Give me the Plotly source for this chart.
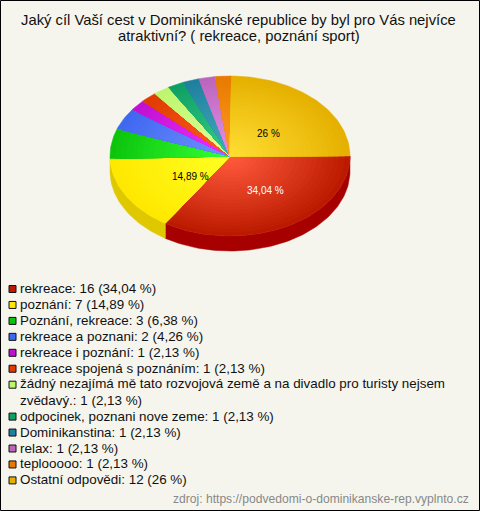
import math
import plotly.graph_objects as go

labels = ["rekreace", "poznání", "Poznání, rekreace", "rekreace a poznani", "rekreace i poznání",
          "rekreace spojená s poznáním",
          "žádný nezajímá mě tato rozvojová země a na divadlo pro turisty nejsem<br>zvědavý.",
          "odpocinek, poznani nove zeme", "Dominikanstina", "relax", "teplooooo", "Ostatní odpovědi"]
values = [16, 7, 3, 2, 1, 1, 1, 1, 1, 1, 1, 12]
percents = ["34,04", "14,89", "6,38", "4,26", "2,13", "2,13", "2,13", "2,13", "2,13", "2,13", "2,13", "26"]
# wedge shares as they were measured on the picture (percent of the full turn)
drawn_shares = [34.06, 15.39, 6.06, 4.31, 2.2, 2.2, 2.2, 2.2, 2.2, 2.2, 2.2, 24.78]
edge_colors = ["#bb1a00", "#ffe800", "#0cc40c", "#3f68f0", "#c010d0", "#e03c00", "#bdf56e",
               "#0f9f63", "#1f7f9f", "#bb66bb", "#e87a00", "#e5b000"]
centre_colors = ["#ff5a3c", "#ffff22", "#33ff33", "#6f90ff", "#f030ff", "#ff5c22", "#dcff99",
                 "#33cc88", "#44aabb", "#e08fe8", "#ff9a22", "#ffdd33"]
side_colors = ["#a60000", "#e0c800"]

BG = "#f5f5ee"
CX, CY, RX, RY, DEPTH = 230, 156, 120, 80, 15
RINGS = 22


def hex_rgb(c):
    return [int(c[i:i + 2], 16) for i in (1, 3, 5)]


def mix(a, b, t):
    a, b = hex_rgb(a), hex_rgb(b)
    return "rgb(%d,%d,%d)" % tuple(round(p + (q - p) * t) for p, q in zip(a, b))


def arc(a0, a1, scale=1.0, dy=0.0):
    n = max(2, int(abs(a1 - a0) * 40))
    xs, ys = [], []
    for i in range(n + 1):
        a = a0 + (a1 - a0) * i / n
        xs.append(CX + RX * scale * math.cos(a))
        ys.append(CY + dy + RY * scale * math.sin(a))
    return xs, ys


fig = go.Figure()


def poly(xs, ys, color):
    fig.add_trace(go.Scatter(x=xs, y=ys, mode="lines", fill="toself", fillcolor=color,
                             line=dict(width=0.5, color=color), hoverinfo="skip", showlegend=False))


total = sum(drawn_shares)
angles = [0.0]
for v in drawn_shares:
    angles.append(angles[-1] + 2 * math.pi * v / total)

# visible side wall of the first two slices
for i in range(2):
    a0, a1 = angles[i], min(angles[i + 1], math.pi)
    x1, y1 = arc(a0, a1)
    x2, y2 = arc(a1, a0, dy=DEPTH)
    poly(x1 + x2 + x1[:1], y1 + y2 + y1[:1], side_colors[i])

# top face, concentric rings give the radial shading
for i in range(len(values)):
    for k in range(RINGS):
        s = 1 - k / RINGS
        color = mix(edge_colors[i], centre_colors[i], (k / (RINGS - 1)) ** 0.95)
        xs, ys = arc(angles[i], angles[i + 1], s)
        poly([CX] + xs + [CX], [CY] + ys + [CY], color)

# pie labels
pie_labels = [(0, 265, 190, "#ffffff"), (1, 190, 176, "#000000"), (11, 268, 133, "#000000")]
for i, x, y, col in pie_labels:
    fig.add_annotation(x=x, y=y, text=f"{percents[i]} %", showarrow=False,
                       font=dict(family="Liberation Sans", size=10, color=col))

# legend
y = 288.5
lx, ly = [], []
for i, lab in enumerate(labels):
    lx.append(12.5)
    ly.append(y + 0.5)
    text = f"{lab}: {values[i]} ({percents[i]} %)"
    fig.add_annotation(x=17.5, y=y + (8 if "<br>" in lab else 0), text=text, showarrow=False,
                       xanchor="left", align="left",
                       font=dict(family="Liberation Sans", size=13.4, color="#111111"))
    y += 31.9 if "<br>" in lab else 15.95
fig.add_trace(go.Scatter(x=lx, y=ly, mode="markers", hoverinfo="skip", showlegend=False,
                         marker=dict(symbol="square", size=7, color=edge_colors,
                                     line=dict(width=1, color="#111111"))))

title_lines = ["Jaký cíl Vaší cest v Dominikánské republice by byl pro Vás nejvíce",
               "atraktivní? ( rekreace, poznání sport)"]
for line, ty in zip(title_lines, [20, 35.5]):
    fig.add_annotation(x=238.5, y=ty, text=line, showarrow=False,
                       font=dict(family="Liberation Sans", size=14.8, color="#111111"))
fig.add_annotation(x=471, y=499, text="zdroj: https://podvedomi-o-dominikanske-rep.vyplnto.cz",
                   showarrow=False, xanchor="right",
                   font=dict(family="Liberation Sans", size=12.1, color="#888888"))

fig.add_shape(type="rect", x0=0.5, y0=0.5, x1=479.5, y1=510.5, line=dict(color="#000000", width=1))
fig.update_layout(width=480, height=511, margin=dict(l=0, r=0, t=0, b=0), paper_bgcolor=BG, plot_bgcolor=BG,
                  xaxis=dict(range=[0, 480], visible=False, fixedrange=True),
                  yaxis=dict(range=[511, 0], visible=False, fixedrange=True))
fig.write_html("out.html", config=dict(displayModeBar=False),
               post_script="document.body.style.margin='0';document.body.style.overflow='hidden';")
